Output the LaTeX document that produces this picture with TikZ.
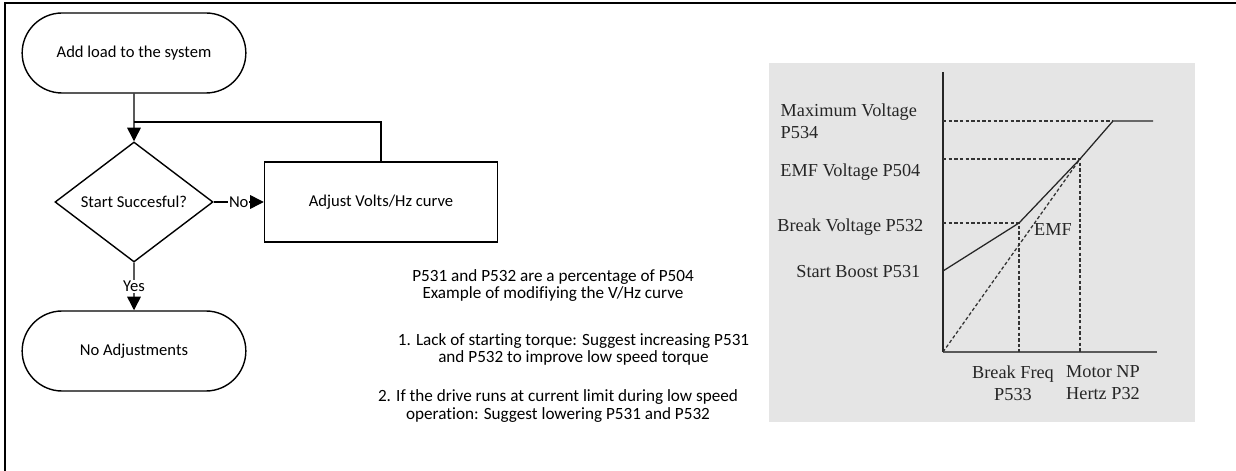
\documentclass[tikz,border=0pt]{standalone}
\usepackage{fontspec}
\setmainfont{Carlito}[Ligatures=NoCommon]
\newfontfamily\plotfont{Liberation Serif}
\usetikzlibrary{arrows.meta,shapes.geometric,shapes.misc}

\tikzset{
  term/.style={draw,rounded rectangle,minimum width=5.825cm,minimum height=2cm,font=\fontsize{11.8}{12.2}\selectfont},
  decision/.style={draw,diamond,aspect=1.32,inner sep=1pt,minimum width=3.95cm,minimum height=3cm,font=\fontsize{11.8}{12.2}\selectfont},
  procbox/.style={draw,rectangle,minimum width=5.825cm,minimum height=2cm,font=\fontsize{11.8}{12.2}\selectfont},
  note/.style={align=center,font=\fontsize{12.2}{12.2}\selectfont},
  flow/.style={->},
  plotlbl/.style={text=black!85,font=\plotfont\fontsize{13}{15.5}\selectfont,inner sep=0pt},
  curve/.style={black!85,line width=0.9pt},
  guide/.style={black!80,line width=0.9pt,dash pattern=on 2.4pt off 1.6pt}
}

\begin{document}
\begin{tikzpicture}[x=0.025cm,y=-0.025cm,line width=1pt,>={Triangle[length=3.4mm,width=3.4mm]}]
  \useasboundingbox (0,0) rectangle (1236,471);
  % frame (top and left edges)
  \draw[line width=1.2pt] (5,471) -- (5,3) -- (1236,3);

  % flowchart
  \node[term] (start) at (134,53) {Add load to the system};
  \node[decision] (check) at (134,202) {Start Succesful?};
  \node[procbox] (adjust) at (381,202) {Adjust Volts/Hz curve};
  \node[term] (done) at (134,351) {No Adjustments};
  \coordinate (merge) at (134,122);

  \draw[flow] (start) -- (check);
  \draw (adjust.north) |- (merge);
  \draw[flow] (check) -- node[fill=white,inner sep=0.5pt,font=\fontsize{11.8}{12.2}\selectfont]{No} (adjust);
  \draw[flow] (check) -- node[fill=white,inner sep=0.5pt,font=\fontsize{11.8}{12.2}\selectfont]{Yes} (done);

  % notes
  \node[note] (pct) at (553,285.5) {P531 and P532 are a percentage of P504\\Example of modifiying the V/Hz curve};
  \node[note] (tip1) at (573.5,349.5) {1. Lack of starting torque: Suggest increasing P531\\and P532 to improve low speed torque};
  \node[note] (tip2) at (558,406) {2. If the drive runs at current limit during low speed\\operation: Suggest lowering P531 and P532};

  % v/hz chart
  \fill[gray!20] (769,63) rectangle (1195,422);
  \coordinate (O) at (943,352);
  \coordinate (boost) at (943,271);
  \coordinate (brk) at (1019,223);
  \coordinate (emf) at (1080,159);
  \coordinate (vmax) at (1113,121);
  \coordinate (vend) at (1153,121);
  \coordinate (ytop) at (943,72);
  \coordinate (xend) at (1157,352);

  \draw[black!85,line width=0.9pt] (ytop) -- (O);
  \draw[black!65,line width=1.5pt] (O) -- (xend);

  \draw[guide] (943,121) -- (vmax);
  \draw[guide] (943,159) -- (emf) -- (1080,352);
  \draw[guide] (943,223) -- (brk) -- (1019,352);
  \draw[guide] (O) -- (emf);
  \draw[curve] (boost) -- (brk) -- (emf) -- (vmax) -- (vend);

  \node[plotlbl,anchor=west,align=left] (lmax) at (780,121.5) {Maximum Voltage\\P534};
  \node[plotlbl,anchor=east] (lemf) at (921,172) {EMF Voltage P504};
  \node[plotlbl,anchor=east] (lbrk) at (924,227) {Break Voltage P532};
  \node[plotlbl,anchor=east] (lboost) at (921,272) {Start Boost P531};
  \node[plotlbl] (lemfc) at (1053,230) {EMF};
  \node[plotlbl,align=center] (lfreq) at (1013,383) {Break Freq\\P533};
  \node[plotlbl,align=center] (lnp) at (1103,383) {Motor NP\\Hertz P32};
\end{tikzpicture}
\end{document}
